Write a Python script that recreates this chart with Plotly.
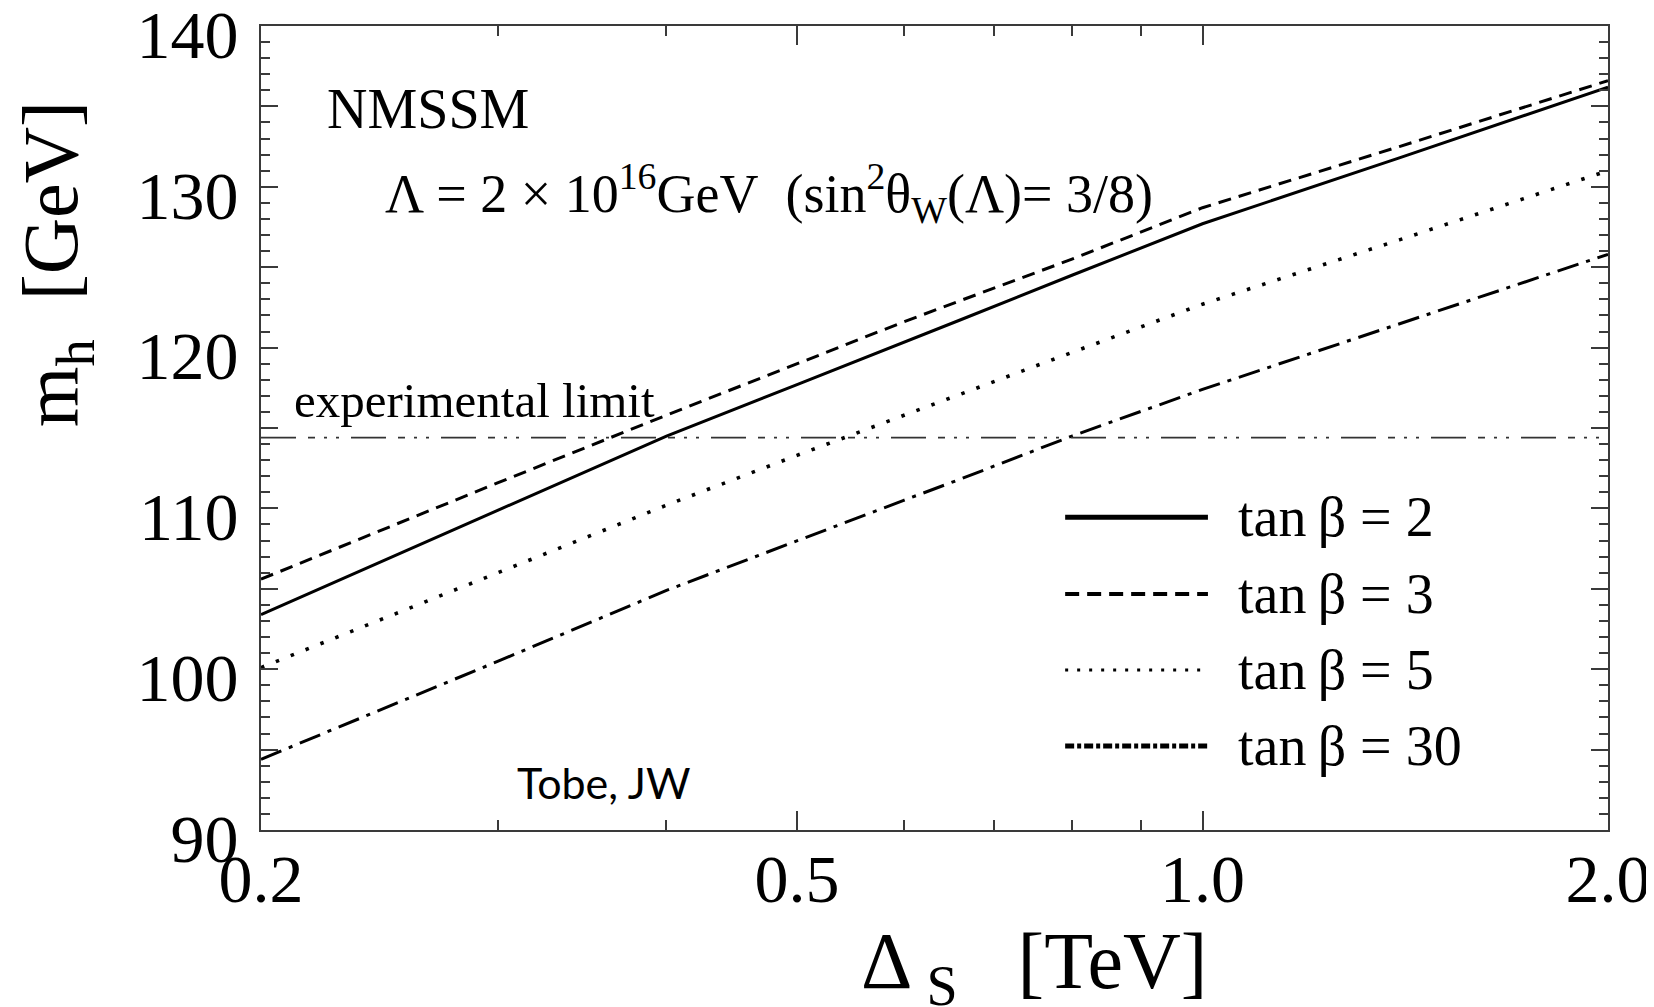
import plotly.graph_objects as go
import numpy as np

# ---- data ----
delta_s = [0.2, 0.3, 0.4, 0.5, 0.6, 0.66, 0.8, 1.0, 1.4, 2.0]  # TeV
mh_tb2 = [103.4, 109.9, 114.5, 117.7, 120.3, 121.7, 124.5, 127.7, 131.8, 136.2]
mh_tb3 = [105.6, 111.6, 115.8, 119.0, 121.6, 122.9, 125.5, 128.7, 132.5, 136.6]
mh_tb5 = [100.1, 106.0, 110.2, 113.3, 115.8, 117.1, 119.7, 122.7, 126.7, 131.0]
mh_tb30 = [94.4, 100.5, 104.9, 108.0, 110.5, 111.8, 114.5, 117.4, 121.5, 125.8]
exp_limit = 114.4

series_names = ["tan\u2009\u03b2 = 2", "tan\u2009\u03b2 = 3", "tan\u2009\u03b2 = 5", "tan\u2009\u03b2 = 30"]

x_tickvals = [0.2, 0.5, 1.0, 2.0]
x_ticktext = ["0.2", "0.5", "1.0", "2.0"]
x_minor = [0.3, 0.4, 0.6, 0.7, 0.8, 0.9]
y_tickvals = [90, 95, 100, 105, 110, 115, 120, 125, 130, 135, 140]
y_ticktext = ["90", "", "100", "", "110", "", "120", "", "130", "", "140"]

SERIF = "Liberation Serif, Times New Roman, serif"
AX = "#3a3a3a"

styles = [
    dict(width=3, dash="solid"),
    dict(width=3, dash="13px,8px"),
    dict(width=3.6, dash="3.5px,12.5px"),
    dict(width=3, dash="22px,8px,4px,8px"),
]
legend_styles = [
    dict(width=5, dash="solid"),
    dict(width=4, dash="14px,8px"),
    dict(width=2.8, dash="3px,9px"),
    dict(width=5, dash="9px,3px,4px,3px"),
]

fig = go.Figure()

for name, ys, st in zip(series_names, [mh_tb2, mh_tb3, mh_tb5, mh_tb30], styles):
    fig.add_trace(go.Scatter(x=delta_s, y=ys, mode="lines", name=name,
                             line=dict(color="black", **st), showlegend=False))

fig.add_trace(go.Scatter(x=[delta_s[0], delta_s[-1]], y=[exp_limit, exp_limit], mode="lines",
                         line=dict(color="#333333", width=1.6, dash="35px,12px,7px,9px,3px,9px,3px,12px"),
                         showlegend=False, name="experimental limit"))

axis_common = dict(
    showline=True, linecolor=AX, linewidth=2, mirror="allticks",
    ticks="inside", tickcolor=AX, tickwidth=2, automargin=False,
    showgrid=False, zeroline=False, ticklabeloverflow="allow",
    tickfont=dict(family=SERIF, size=68, color="black"),
)

fig.update_xaxes(type="log", range=[np.log10(0.2), np.log10(2.0)],
                 tickmode="array", tickvals=x_tickvals, ticktext=x_ticktext, ticklen=19,
                 minor=dict(tickmode="array", tickvals=x_minor, ticks="inside", ticklen=10,
                            tickcolor=AX, tickwidth=2, showgrid=False),
                 ticklabelstandoff=-12,
                 **axis_common)
fig.update_yaxes(range=[90, 140], tickmode="array", tickvals=y_tickvals, ticktext=y_ticktext, ticklen=17,
                 minor=dict(dtick=1, ticks="inside", ticklen=9, tickcolor=AX, tickwidth=2, showgrid=False),
                 ticklabelstandoff=7, ticklabelshift=8,
                 **axis_common)

NB = "\u00a0"
annotations = [
    dict(text="NMSSM", x=0.0475, y=0.897, xanchor="left", yanchor="middle",
         font=dict(family=SERIF, size=56, color="black")),
    dict(text="\u039b = 2 \u00d7 10<sup>16</sup>GeV" + NB + NB + "(sin<sup>2</sup>\u03b8<sub>W</sub>(\u039b)= 3/8)",
         x=0.0906, y=0.792, xanchor="left", yanchor="middle",
         font=dict(family=SERIF, size=54, color="black")),
    dict(text="experimental limit", x=0.023, y=0.534, xanchor="left", yanchor="middle",
         font=dict(family=SERIF, size=49, color="black")),
    dict(text="Tobe, JW", x=0.1886, y=0.0585, xanchor="left", yanchor="middle",
         font=dict(family="Lato, Open Sans, sans-serif", size=43, color="black")),
    dict(text="m<sub>h</sub>" + NB + NB + "[GeV]", x=-0.152, y=0.704, xanchor="center", yanchor="middle",
         textangle=-90, font=dict(family=SERIF, size=78, color="black")),
    dict(text="\u0394<sub>" + NB + "S</sub>" + NB + NB + NB + "[TeV]", x=0.574, y=-0.17,
         xanchor="center", yanchor="middle",
         font=dict(family=SERIF, size=80, color="black")),
]

legend_y = [0.389, 0.2935, 0.199, 0.1045]
shapes = []
for name, ly, st in zip(series_names, legend_y, legend_styles):
    shapes.append(dict(type="line", xref="paper", yref="paper", x0=0.597, x1=0.703, y0=ly, y1=ly,
                       line=dict(color="black", **st)))
    annotations.append(dict(text=name, x=0.724, y=ly, xanchor="left", yanchor="middle",
                            font=dict(family=SERIF, size=56, color="black")))

for a in annotations:
    a.update(xref="paper", yref="paper", showarrow=False)

# the page body adds an 8px offset; size the figure so the plot area lands where the reference has it
fig.update_layout(
    width=1646, height=999,
    margin=dict(l=253, r=46, t=18, b=177, autoexpand=False),
    paper_bgcolor="white", plot_bgcolor="white",
    annotations=annotations, shapes=shapes,
    showlegend=False,
)

fig.write_html("out.html")
